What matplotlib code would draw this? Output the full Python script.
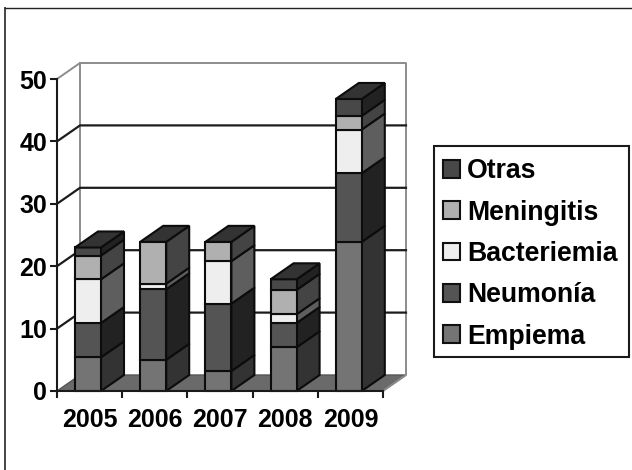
import matplotlib
matplotlib.use('Agg')
import matplotlib.pyplot as plt
from matplotlib.patches import Polygon, Patch, Rectangle
from matplotlib.lines import Line2D

years = ['2005', '2006', '2007', '2008', '2009']
empiema = [5.4, 5.0, 3.2, 7.0, 23.9]
neumonia = [5.5, 11.3, 10.8, 3.9, 11.0]
bacteriemia = [7.0, 0.9, 6.8, 1.4, 7.0]
meningitis = [3.8, 6.7, 3.1, 3.9, 2.2]
otras = [1.3, 0.0, 0.0, 1.7, 2.7]

series = [empiema, neumonia, bacteriemia, meningitis, otras]
names = ['Empiema', 'Neumonía', 'Bacteriemia', 'Meningitis', 'Otras']
front_cols = ['#747474', '#545454', '#eeeeee', '#b0b0b0', '#484848']
side_cols = ['#333333', '#222222', '#5e5e5e', '#444444', '#222222']
top_col = '#333333'

W, H = 632, 470
plt.rcParams['font.family'] = ['Liberation Sans', 'DejaVu Sans']
plt.rcParams['font.weight'] = 'bold'

fig = plt.figure(figsize=(W / 100, H / 100), dpi=100)
# axes box is the front plane of the 3d-looking chart
ax = fig.add_axes([57 / W, 1 - 391 / H, 326 / W, 312 / H])
ax.set_xlim(0, 5)
ax.set_ylim(0, 50)
ax.patch.set_alpha(0)

# depth offset of the back wall, in data units
dx = 23 / 65.2
dy = 16 / 6.24
bar_w = 26 / 65.2
bar_off = 18 / 65.2

# floor
ax.add_patch(Polygon([(0, 0), (5, 0), (5 + dx, dy), (dx, dy)], fc='#6a6a6a', ec='#555555', lw=1,
                     clip_on=False, zorder=1))
# walls
wall = '#8c8c8c'
ax.add_line(Line2D([0, dx, 5 + dx, 5 + dx, 5], [50, 50 + dy, 50 + dy, dy, 0], color=wall, lw=1.4,
                   clip_on=False, zorder=1))
ax.add_line(Line2D([dx, dx], [dy, 50 + dy], color=wall, lw=1.4, clip_on=False, zorder=1))
# gridlines run along the left wall then the back wall
for v in [10, 20, 30, 40]:
    ax.add_line(Line2D([0, dx, 5 + dx], [v, v + dy, v + dy], color='#1c1c1c', lw=1.6,
                       clip_on=False, zorder=1.5))

# stacked boxes
z = 3
for i in range(len(years)):
    base = 0
    x0 = i + bar_off
    x1 = x0 + bar_w
    for vals, fc, sc in zip(series, front_cols, side_cols):
        v = vals[i]
        if v == 0:
            continue
        ax.add_patch(Polygon([(x1, base), (x1 + dx, base + dy), (x1 + dx, base + v + dy), (x1, base + v)],
                             fc=sc, ec='#0c0c0c', lw=1.5, clip_on=False, zorder=z))
        ax.add_patch(Polygon([(x0, base), (x1, base), (x1, base + v), (x0, base + v)],
                             fc=fc, ec='#0c0c0c', lw=1.5, clip_on=False, zorder=z))
        base += v
    ax.add_patch(Polygon([(x0, base), (x1, base), (x1 + dx, base + dy), (x0 + dx, base + dy)],
                         fc=top_col, ec='#0c0c0c', lw=1.5, clip_on=False, zorder=z))
    z += 1

# axes
for s in ['top', 'right']:
    ax.spines[s].set_visible(False)
for s in ['left', 'bottom']:
    ax.spines[s].set_linewidth(1.5)
    ax.spines[s].set_color('#1a1a1a')
    ax.spines[s].set_zorder(20)
ax.set_yticks([0, 10, 20, 30, 40, 50])
ax.set_xticks(range(6))
ax.set_xticklabels([])
ax.set_xticks([i + 0.5 for i in range(5)], labels=years, minor=True)
ax.tick_params(axis='y', length=5, width=1.5, color='#1a1a1a', labelsize=18, pad=2)
ax.tick_params(axis='x', which='major', length=5, width=1.5, color='#1a1a1a')
ax.tick_params(axis='x', which='minor', length=0, labelsize=18, pad=12)

# legend, its box is drawn separately so the rows can sit a bit high in it
fig.add_artist(Rectangle((434 / W, 1 - 357 / H), 195 / W, 211 / H, transform=fig.transFigure,
                         fc='white', ec='#1a1a1a', lw=1.5, zorder=1))
handles = [Patch(fc=c, ec='#111111', lw=1.5) for c in front_cols[::-1]]
leg = fig.legend(handles, names[::-1], loc='upper left', bbox_to_anchor=(432 / W, 1 - 147 / H),
                 bbox_transform=fig.transFigure, borderaxespad=0, frameon=False,
                 fontsize=19.2, handlelength=0.64, handleheight=0.64,
                 handletextpad=0.26, labelspacing=0.575, borderpad=0.42)

# outer border of the figure, open on the right and at the bottom
fig.add_artist(Line2D([5 / W, 5 / W], [0, 1 - 8 / H], color='#444444', lw=1.4))
fig.add_artist(Line2D([5 / W, 1], [1 - 8 / H, 1 - 8 / H], color='#222222', lw=1.0))

fig.savefig('out.png', dpi=100)
